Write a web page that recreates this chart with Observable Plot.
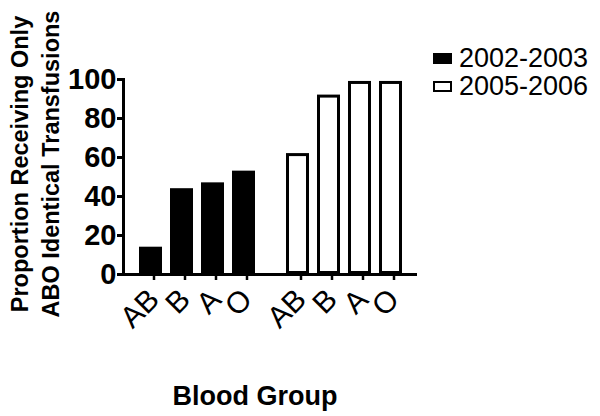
<!DOCTYPE html>
<html>
<head>
<meta charset="utf-8">
<script src="https://cdn.jsdelivr.net/npm/d3@7"></script>
<script src="https://cdn.jsdelivr.net/npm/@observablehq/plot@0.6"></script>
<style>
  html, body { margin: 0; padding: 0; background: #fff; }
  #wrap { position: relative; width: 600px; height: 416px; font-family: "Liberation Sans", Arial, sans-serif; color: #000; }
  #wrap svg { position: absolute; left: 0; top: 0; }
  .legend-row { position: absolute; left: 433px; height: 30px; display: flex; align-items: center; font-size: 27px; line-height: 1; }
  .sw { width: 19px; height: 11px; box-sizing: border-box; margin-right: 7px; }
  #xtitle { position: absolute; left: 135px; width: 240px; top: 383px; text-align: center; font-size: 27px; font-weight: bold; line-height: 27px; }
  g[aria-label="y-axis tick label"] text { font-weight: bold; }
</style>
</head>
<body>
<div id="wrap"></div>
<script>
const groups = ["AB", "B", "A", "O"];
const periods = ["2002-2003", "2005-2006"];
const values2002 = [14, 44, 47, 53];
const values2005 = [62, 92, 99, 99];
const yTicks = [0, 20, 40, 60, 80, 100];
const yTitle = "Proportion Receiving Only\nABO Identical Transfusions";
const xTitle = "Blood Group";
const periodFill = ["#000", "#fff"];

const data = periods.flatMap((p, i) =>
  groups.map((g, j) => ({period: p, group: g, value: [values2002, values2005][i][j]}))
);

const chart = Plot.plot({
  width: 600,
  height: 416,
  marginLeft: 123,
  marginRight: 183,
  marginTop: 79,
  marginBottom: 142,
  style: {fontFamily: "'Liberation Sans', Arial, sans-serif", background: "transparent", color: "#000"},
  fx: {domain: periods, padding: 0, axis: null, label: null},
  x: {domain: groups, paddingInner: 0.26, paddingOuter: 0.5, label: null},
  y: {domain: [0, 100], label: null},
  marks: [
    Plot.barY(data.filter(d => d.period === periods[0]), {
      fx: "period", x: "group", y: "value", fill: periodFill[0], inset: 0
    }),
    Plot.barY(data.filter(d => d.period === periods[1]), {
      fx: "period", x: "group", y: "value", fill: periodFill[1], stroke: "#000", strokeWidth: 3, inset: 1.5
    }),
    Plot.ruleY([0], {strokeWidth: 3}),
    Plot.frame({anchor: "left", strokeWidth: 3, facetAnchor: "left"}),
    Plot.axisY({ticks: yTicks, tickSize: 6, tickPadding: 1, fontSize: 29, fontWeight: "bold", strokeWidth: 3, label: null}),
    Plot.axisX({tickSize: 6, tickPadding: 14, dx: 3, tickRotate: -45, textAnchor: "end", fontSize: 30, strokeWidth: 2.5, label: null}),
    Plot.text([periods[0]], {
      fx: d => d, text: () => yTitle, frameAnchor: "left", textAnchor: "middle", rotate: -90,
      dx: -90, dy: -13, fontSize: 23.5, fontWeight: "bold", lineHeight: 1.3, lineAnchor: "middle"
    })
  ]
});

const wrap = document.getElementById("wrap");
wrap.appendChild(chart);

// Legend
periods.forEach((p, i) => {
  const row = document.createElement("div");
  row.className = "legend-row";
  row.style.top = (43 + i * 28) + "px";
  const sw = document.createElement("div");
  sw.className = "sw";
  sw.style.background = periodFill[i];
  sw.style.border = i === 0 ? "none" : "2.5px solid #000";
  const t = document.createElement("span");
  t.textContent = p;
  row.appendChild(sw);
  row.appendChild(t);
  wrap.appendChild(row);
});

const xt = document.createElement("div");
xt.id = "xtitle";
xt.textContent = xTitle;
wrap.appendChild(xt);
</script>
</body>
</html>
